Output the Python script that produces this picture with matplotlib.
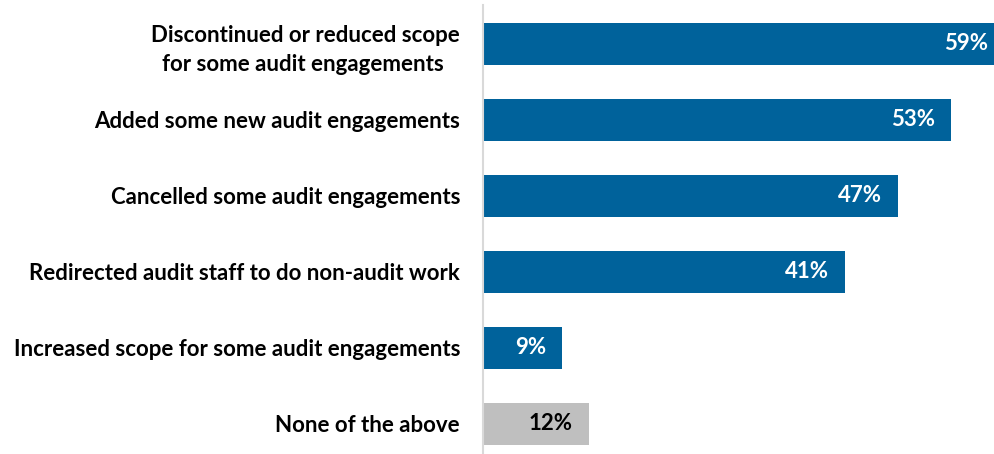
import matplotlib
matplotlib.use("Agg")
import matplotlib.pyplot as plt

# survey responses, top to bottom
categories = [
    "Discontinued or reduced scope\nfor some audit engagements ",
    "Added some new audit engagements",
    "Cancelled some audit engagements",
    "Redirected audit staff to do non-audit work",
    "Increased scope for some audit engagements",
    "None of the above",
]
values = [59, 53, 47, 41, 9, 12]
bar_colors = ["#00629B"] * 5 + ["#BFBFBF"]
text_colors = ["white"] * 5 + ["black"]

plt.rcParams["font.family"] = ["Lato", "DejaVu Sans"]

W, H = 994, 454
fig = plt.figure(figsize=(W / 100, H / 100), dpi=100)
ax = fig.add_axes([483 / W, 0, (W - 483) / W, 449 / H])

pos = list(range(len(categories)))
ax.barh(pos, values, height=0.553, color=bar_colors)

for y, v, c in zip(pos, values, text_colors):
    ax.annotate(f"{v}%", xy=(v, y), xytext=(-11.5, 0), textcoords="offset points",
                ha="right", va="center", color=c, fontsize=16,
                fontweight="bold", annotation_clip=False)

ax.set_xlim(0, (W - 483) / 8.83)
ax.set_ylim(5.395, -0.513)
ax.set_yticks(pos)
ax.set_yticklabels(categories, fontsize=16, fontweight="bold")
for lbl in ax.get_yticklabels():
    lbl.set_multialignment("center")
    lbl.set_linespacing(1.45)
ax.tick_params(axis="y", length=0, pad=16.5)
ax.set_xticks([])

for side in ["top", "right", "bottom"]:
    ax.spines[side].set_visible(False)
ax.spines["left"].set_color("#D9D9D9")
ax.spines["left"].set_linewidth(1.5)

fig.savefig("out.png", dpi=100)
